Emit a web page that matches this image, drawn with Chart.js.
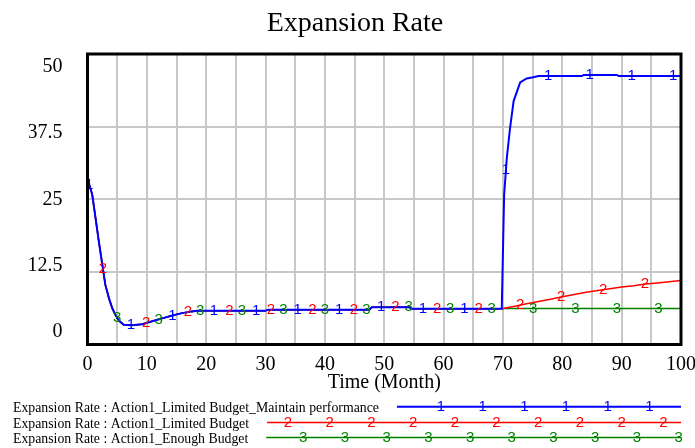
<!DOCTYPE html>
<html>
<head>
<meta charset="utf-8">
<title>Expansion Rate</title>
<style>
	html, body { margin: 0; padding: 0; background: #fff; }
	#chart-wrap { width: 695px; height: 448px; }
</style>
<script src="https://cdn.jsdelivr.net/npm/chart.js@4.4.1/dist/chart.umd.min.js"></script>
</head>
<body>
<div id="chart-wrap"><canvas id="expansion-chart" width="695" height="448"></canvas></div>
<script>
/* global Chart */

// ----------------------------------------------------------------
// Data (time in months, rate)
// ----------------------------------------------------------------

// All three runs are the same up to month 70
var TIME_SHARED = [ 0, 0.4, 0.8, 1.35, 1.9, 2.5, 3, 3.6, 4.15, 4.7, 5.3, 6.1, 7.5, 9.2, 10.9, 12.6, 14.3, 15.9, 17.6, 18.5, 30, 30.4, 47.5, 47.9, 54.2, 54.6, 69.8 ];
var RATE_SHARED = [ 28.4, 27.2, 25.8, 21.8, 17.8, 13.7, 10.3, 8.0, 6.3, 5.1, 4.1, 3.4, 3.3, 3.5, 4.0, 4.5, 5.0, 5.4, 5.7, 5.8, 5.8, 6.0, 6.0, 6.4, 6.4, 6.15, 6.15 ];

var TIME_MAINTAIN = [ 70.2, 70.65, 71.2, 71.8, 72.9, 74, 75.1, 76, 83.3, 83.6, 89.2, 89.5, 100 ];
var RATE_MAINTAIN = [ 25.8, 32.1, 37.3, 41.9, 45.1, 45.8, 46.0, 46.2, 46.2, 46.4, 46.4, 46.2, 46.2 ];

var TIME_LIMITED = [ 70, 72, 74, 76, 78, 80, 82, 84, 86, 88, 90, 92, 94, 96, 98, 100 ];
var RATE_LIMITED = [ 6.2, 6.6, 7.0, 7.4, 7.8, 8.2, 8.6, 9.0, 9.3, 9.6, 9.9, 10.1, 10.4, 10.6, 10.8, 11.0 ];

var TIME_ENOUGH = [ 70, 100 ];
var RATE_ENOUGH = [ 6.2, 6.2 ];

// where Vensim put the run number on each line
var MARKS_MAINTAIN = [ 0.3, 7.3, 14.3, 21.3, 28.4, 35.4, 42.4, 49.5, 56.5, 63.5, 70.5, 77.6, 84.6, 91.7, 98.7 ];
var MARKS_LIMITED  = [ 2.6, 9.9, 16.9, 23.9, 30.9, 37.9, 44.9, 51.9, 58.9, 65.9, 72.9, 79.8, 86.9, 93.9 ];
var MARKS_ENOUGH   = [ 5.0, 12.0, 19.0, 26.0, 33.0, 40.0, 47.0, 54.1, 61.1, 68.1, 75.1, 82.2, 89.2, 96.2 ];

var SERIES_LABELS = [
	'Expansion Rate : Action1_Limited Budget_Maintain performance',
	'Expansion Rate : Action1_Limited Budget',
	'Expansion Rate : Action1_Enough Budget',
];
var SERIES_TAGS   = [ '1', '2', '3' ];
var SERIES_COLORS = [ '#0000ff', '#ff0000', '#008000' ];

var X_MIN = 0;
var X_MAX = 100;
var Y_MIN = 0;
var Y_MAX = 50;
var Y_TICK_LABELS = [ 0, 12.5, 25, 37.5, 50 ];

( function () {
	'use strict';

	if ( typeof Chart === 'undefined' ) {
		return;
	}

	var SERIF = '"Liberation Serif", "Times New Roman", serif';
	var SANS  = '"Liberation Sans", Arial, sans-serif';

	// ----------------------------------------------------------------
	// Helpers
	// ----------------------------------------------------------------

	function points( times, rates ) {
		return times.map( function ( t, i ) { return { x: t, y: rates[ i ] }; } );
	}

	function lineSet( label, data, color, width ) {
		return {
			label           : label,
			data            : data,
			borderColor     : color,
			backgroundColor : color,
			borderWidth     : width,
			pointRadius     : 0,
			pointHoverRadius: 0,
			tension         : 0,
			fill            : false,
		};
	}

	var shared = points( TIME_SHARED, RATE_SHARED );

	var datasets = [
		lineSet( SERIES_LABELS[0], shared.concat( points( TIME_MAINTAIN, RATE_MAINTAIN ) ), SERIES_COLORS[0], 2 ),
		lineSet( SERIES_LABELS[1], shared.concat( points( TIME_LIMITED, RATE_LIMITED ) ), SERIES_COLORS[1], 1.5 ),
		lineSet( SERIES_LABELS[2], shared.concat( points( TIME_ENOUGH, RATE_ENOUGH ) ), SERIES_COLORS[2], 1.5 ),
	];

	var MARKS = [ MARKS_MAINTAIN, MARKS_LIMITED, MARKS_ENOUGH ];

	// ----------------------------------------------------------------
	// Plugins: frame, run numbers on the lines, Vensim style legend
	// ----------------------------------------------------------------

	var framePlugin = {
		id: 'frame',
		afterDraw: function ( chart ) {
			var a = chart.chartArea, ctx = chart.ctx;
			ctx.save();
			ctx.strokeStyle = '#000';
			ctx.lineWidth = 3;
			ctx.strokeRect( a.left, a.top, a.right - a.left, a.bottom - a.top );
			ctx.restore();
		}
	};

	// pixel y of a dataset line at pixel x, from the drawn elements
	function lineYAt( pts, px ) {
		for ( var j = 0; j < pts.length - 1; j++ ) {
			var p0 = pts[ j ], p1 = pts[ j + 1 ];
			if ( px >= p0.x && px <= p1.x ) {
				if ( p1.x === p0.x ) { return p1.y; }
				return p0.y + ( p1.y - p0.y ) * ( px - p0.x ) / ( p1.x - p0.x );
			}
		}
		return pts[ pts.length - 1 ].y;
	}

	var runTagPlugin = {
		id: 'runTags',
		afterDatasetsDraw: function ( chart ) {
			var ctx = chart.ctx, xs = chart.scales.x;
			ctx.save();
			ctx.font = '15px ' + SANS;
			ctx.textAlign = 'center';
			ctx.textBaseline = 'middle';
			MARKS.forEach( function ( times, i ) {
				var pts = chart.getDatasetMeta( i ).data;
				ctx.fillStyle = SERIES_COLORS[ i ];
				times.forEach( function ( t ) {
					var px = xs.getPixelForValue( t );
					ctx.fillText( SERIES_TAGS[ i ], px, lineYAt( pts, px ) );
				} );
			} );
			ctx.restore();
		}
	};

	var LEGEND_BASELINES = [ 412, 427.7, 442.7 ];
	var LEGEND_TAG_START = [ 44, 21, 37 ];
	var LEGEND_TAG_STEP  = 41.7;

	var vensimLegend = {
		id: 'vensimLegend',
		afterDraw: function ( chart ) {
			var ctx = chart.ctx, right = chart.chartArea.right;
			ctx.save();
			SERIES_LABELS.forEach( function ( label, i ) {
				var base = LEGEND_BASELINES[ i ];
				ctx.font = '13.8px ' + SERIF;
				ctx.fillStyle = '#000';
				ctx.textAlign = 'left';
				ctx.textBaseline = 'alphabetic';
				ctx.fillText( label, 13, base );

				var x0 = 13 + ctx.measureText( label ).width + 18;
				var ly = base - 5.3;
				ctx.strokeStyle = SERIES_COLORS[ i ];
				ctx.lineWidth = i === 0 ? 2 : 1.5;
				ctx.beginPath();
				ctx.moveTo( x0, ly );
				ctx.lineTo( right, ly );
				ctx.stroke();

				ctx.font = '15px ' + SANS;
				ctx.fillStyle = SERIES_COLORS[ i ];
				ctx.textAlign = 'center';
				ctx.textBaseline = 'middle';
				for ( var x = x0 + LEGEND_TAG_START[ i ]; x <= right + 1; x += LEGEND_TAG_STEP ) {
					ctx.fillText( SERIES_TAGS[ i ], x, ly );
				}
			} );
			ctx.restore();
		}
	};

	// ----------------------------------------------------------------
	// Chart
	// ----------------------------------------------------------------

	var GRID = {
		color     : '#c8c8c8',
		lineWidth : 2,
		drawTicks : false,
	};

	var TICK_FONT = { family: SERIF, size: 20 };

	// Vensim squeezes the value labels inside the frame: 0 sits a bit
	// above the bottom edge and 50 a bit below the top edge. A label-only
	// axis with a slightly wider range reproduces that.
	var LABEL_AXIS_MIN = -2.36;
	var LABEL_AXIS_MAX = 52.45;

	new Chart( document.getElementById( 'expansion-chart' ), {
		type: 'line',
		data: { datasets: datasets },
		options: {
			responsive : false,
			animation  : false,
			events     : [],
			layout     : { padding: { left: 29, right: 14, top: 0, bottom: 53.5 } },
			plugins    : {
				legend  : { display: false },
				tooltip : { enabled: false },
				title   : {
					display : true,
					text    : 'Expansion Rate',
					color   : '#000',
					font    : { family: SERIF, size: 28, weight: 'normal' },
					padding : { top: 7, bottom: 13.4 },
				},
			},
			scales: {
				x: {
					type   : 'linear',
					min    : X_MIN,
					max    : X_MAX,
					grid   : GRID,
					border : { display: false },
					ticks  : {
						stepSize    : 5,
						autoSkip    : false,
						maxRotation : 0,
						padding     : 8,
						color       : '#000',
						font        : TICK_FONT,
						callback    : function ( v ) { return v % 10 === 0 ? String( v ) : ''; },
					},
					title  : {
						display : true,
						text    : 'Time (Month)',
						color   : '#000',
						font    : { family: SERIF, size: 20 },
						padding : { top: 0, bottom: 0 },
					},
					afterFit: function ( s ) {
						s.height = 50;
						s.paddingLeft = 0;
						s.paddingRight = 0;
					},
				},
				y: {
					position : 'left',
					weight   : 1,
					min      : Y_MIN,
					max      : Y_MAX,
					grid     : GRID,
					border   : { display: false },
					ticks    : { stepSize: 12.5, display: false },
					afterFit : function ( s ) {
						s.width = 0;
						s.paddingTop = 0;
						s.paddingBottom = 0;
					},
				},
				yLabels: {
					type     : 'linear',
					position : 'left',
					weight   : 0,
					min      : LABEL_AXIS_MIN,
					max      : LABEL_AXIS_MAX,
					grid     : { display: false, drawTicks: false },
					border   : { display: false },
					ticks    : {
						padding  : 25,
						color    : '#000',
						font     : TICK_FONT,
						callback : function ( v ) { return String( v ); },
					},
					afterBuildTicks: function ( s ) {
						s.ticks = Y_TICK_LABELS.map( function ( v ) { return { value: v }; } );
					},
					afterFit : function ( s ) {
						s.width = 58.5;
						s.paddingTop = 0;
						s.paddingBottom = 0;
					},
				},
			},
		},
		plugins: [ runTagPlugin, framePlugin, vensimLegend ],
	} );

}() );
</script>
</body>
</html>
